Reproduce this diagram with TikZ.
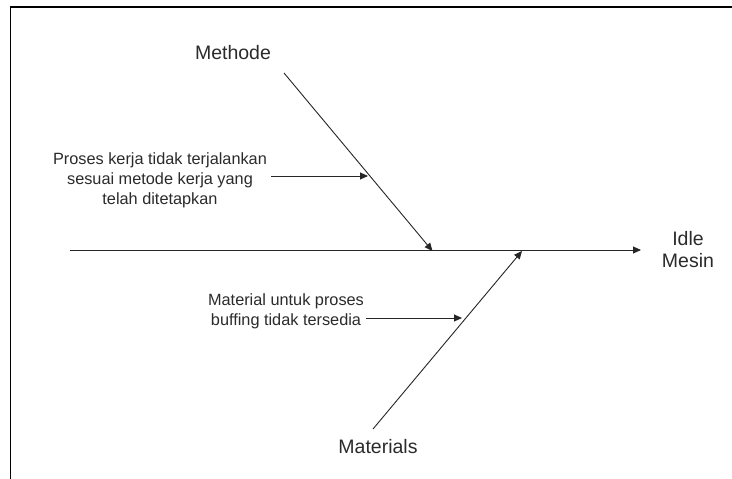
\documentclass[tikz,border=0pt]{standalone}
\usepackage{fontspec}
\setmainfont{Liberation Sans}
\usetikzlibrary{arrows.meta}
\definecolor{txt}{HTML}{2B2B2B}
\tikzset{
  lbl/.style={text=txt, font=\fontsize{19.5}{22}\selectfont, inner sep=0pt, align=center},
  cause/.style={text=txt, font=\fontsize{16.3}{20}\selectfont, inner sep=0pt, align=center},
  bone/.style={draw=black!85, line width=0.9pt, -{Triangle[length=8pt,width=7pt]}},
  frame/.style={draw=black, line width=1.6pt}
}
\begin{document}
\begin{tikzpicture}[x=1pt,y=-1pt]
\useasboundingbox (0,0) rectangle (732,479);
\fill[white] (0,0) rectangle (732,479);
% frame
\coordinate (f1) at (10.5,479);
\coordinate (f2) at (10.5,7);
\coordinate (f3) at (732,7);
\draw[frame] (f1) -- (f2) -- (f3);
% labels
\node[lbl] (methode) at (233,53) {Methode};
\node[lbl] (materials) at (378,447) {Materials};
\node[lbl] (effect) at (688,250) {Idle\\Mesin};
\node[cause] (c1) at (160,180.5) {Proses kerja tidak terjalankan\\sesuai metode kerja yang\\telah ditetapkan};
\node[cause] (c2) at (286,311) {Material untuk proses\\buffing tidak tersedia};
% spine
\coordinate (s0) at (70,250);
\coordinate (s1) at (641,250);
\draw[bone] (s0) -- (s1);
% bones
\coordinate (m0) at (284,73);
\coordinate (m1) at (432.5,251);
\draw[bone] (m0) -- (m1);
\coordinate (t0) at (373,429);
\coordinate (t1) at (522,251);
\draw[bone] (t0) -- (t1);
% cause arrows
\coordinate (a0) at (271,176);
\coordinate (a1) at (368,176);
\draw[bone] (a0) -- (a1);
\coordinate (b0) at (366,318);
\coordinate (b1) at (462,318);
\draw[bone] (b0) -- (b1);
\end{tikzpicture}
\end{document}
